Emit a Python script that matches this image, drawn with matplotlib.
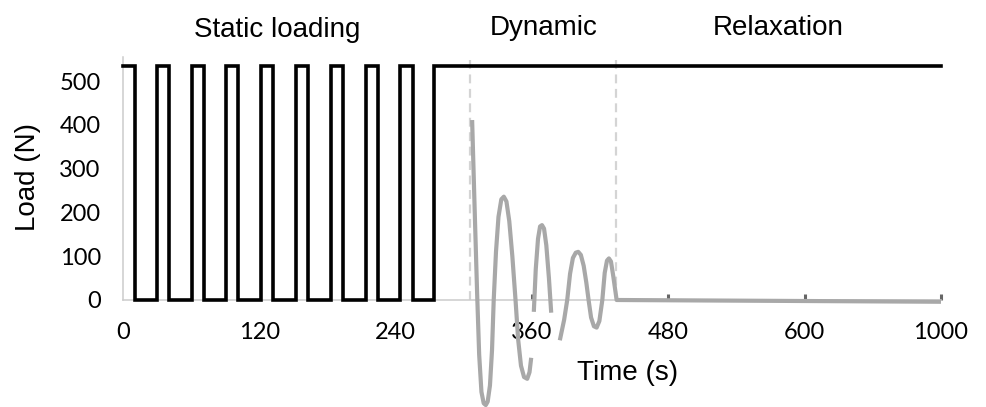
import matplotlib.pyplot as plt

# static loading: times where the load switches on / off (s)
on_times = [0, 30, 60.5, 91, 121.5, 152, 183, 213.5, 244, 274]
off_times = [10.5, 40.5, 71, 101.5, 132, 162.5, 193.5, 224.5, 255]
load_high = 535
t_end = 720

# dynamic phase, three pieces of the grey trace
dyn1_t = [307.3, 309.5, 311.7, 313.5, 315.5, 317.5, 319.3, 321, 323, 324.8, 326.3,
          328.3, 330.5, 333, 335.2, 337.5, 340, 342.7, 345.5, 347.8, 350.3, 353,
          355.8, 357.8, 359.3]
dyn1_f = [411, 210, 15, -125, -210, -236, -240, -232, -195, -115, 0,
          110, 190, 230, 236, 225, 180, 100, 0, -90, -150, -176,
          -180, -165, -132]
dyn2_t = [361.6, 363.3, 365.3, 367.1, 368.8, 370.6, 372.6, 374.9, 376.9]
dyn2_f = [-27, 70, 140, 168, 171, 163, 125, 50, -29]
dyn3_t = [384.5, 388.3, 391, 393.5, 396, 398.5, 400.7, 403, 405.5, 407.8, 409.8,
          412, 414.5, 416.9, 419.3, 421.9, 424, 426, 427.7, 429.5, 431.5, 434.5, 720]
dyn3_f = [-92, -45, 0, 60, 96, 108, 110, 103, 78, 40, 0,
          -40, -60, -63, -48, 0, 62, 90, 95, 88, 55, 0, -4]

phase_bounds = [305, 434]
xticks = [0, 120, 240, 360, 480, 600, 720]
xticklabels = ['0', '120', '240', '360', '480', '600', '1000']
yticks = [0, 100, 200, 300, 400, 500]

# build the square wave from the switch times
sq_t, sq_f = [], []
for i, t_on in enumerate(on_times):
    sq_t += [t_on, t_on]
    sq_f += [0, load_high]
    if i < len(off_times):
        sq_t += [off_times[i], off_times[i]]
        sq_f += [load_high, 0]
    else:
        sq_t.append(t_end)
        sq_f.append(load_high)
sq_f[0] = load_high

fig = plt.figure(figsize=(9.87, 4.07), dpi=100)
ax = fig.add_axes([123 / 987, 107 / 407, 818 / 987, 243 / 407])

for xb in phase_bounds:
    ax.axvline(xb, color='#d4d4d4', lw=1.6, ls=(0, (4, 2.5)), zorder=1)

grey = '#a8a8a8'
for t, f in [(dyn1_t, dyn1_f), (dyn2_t, dyn2_f), (dyn3_t, dyn3_f)]:
    ax.plot(t, f, color=grey, lw=3.0, clip_on=False, zorder=3,
            solid_joinstyle='round', solid_capstyle='butt')

ax.plot(sq_t, sq_f, color='black', lw=2.6, zorder=4, clip_on=False,
        solid_joinstyle='miter')

ax.set_xlim(0, t_end)
ax.set_ylim(0, 555)
for s in ['top', 'right']:
    ax.spines[s].set_visible(False)
for s in ['left', 'bottom']:
    ax.spines[s].set_color('#cccccc')
    ax.spines[s].set_linewidth(1.1)

ax.set_xticks(xticks)
ax.set_xticklabels(xticklabels, family='Lato', fontsize=17)
ax.set_yticks(yticks)
ax.set_yticklabels([str(v) for v in yticks], family='Lato', fontsize=17)
ax.tick_params(axis='x', direction='in', length=4, width=2.2, color='#666666', pad=16)
ax.tick_params(axis='y', length=0, pad=16)
# tick marks under the square wave are hidden in the original
for tk in ax.xaxis.get_major_ticks()[:3]:
    tk.tick1line.set_visible(False)

hf = 'Liberation Sans'
fig.text(277 / 987, 1 - 36.7 / 407, 'Static loading', ha='center', va='baseline',
         family=hf, fontsize=20)
fig.text(544 / 987, 1 - 35 / 407, 'Dynamic', ha='center', va='baseline',
         family=hf, fontsize=20)
fig.text(778 / 987, 1 - 35 / 407, 'Relaxation', ha='center', va='baseline',
         family=hf, fontsize=20)
fig.text(627.5 / 987, 1 - 380 / 407, 'Time (s)', ha='center', va='baseline',
         family=hf, fontsize=20)
fig.text(28 / 987, 1 - 177 / 407, 'Load (N)', ha='center', va='center',
         rotation=90, family=hf, fontsize=20)

fig.savefig('out.png', dpi=100)
